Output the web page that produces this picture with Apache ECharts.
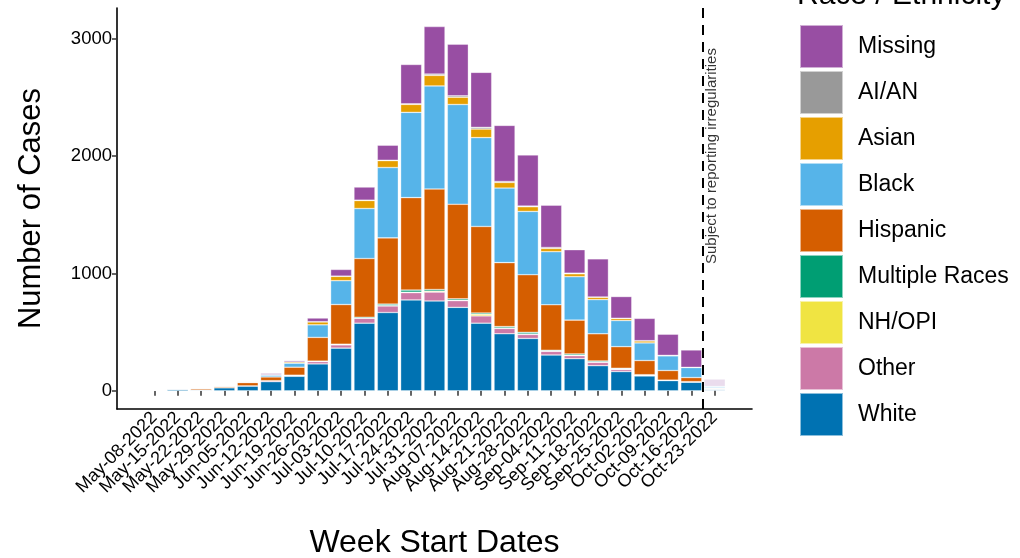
<!DOCTYPE html>
<html><head><meta charset="utf-8">
<script src="https://cdn.jsdelivr.net/npm/echarts@6/dist/echarts.min.js"></script>
<style>html,body{margin:0;padding:0;background:#fff}#c{width:1020px;height:558px}</style>
</head><body><div id="c"></div>
<script>
const weeks = ["May-08-2022","May-15-2022","May-22-2022","May-29-2022","Jun-05-2022","Jun-12-2022","Jun-19-2022","Jun-26-2022","Jul-03-2022","Jul-10-2022","Jul-17-2022","Jul-24-2022","Jul-31-2022","Aug-07-2022","Aug-14-2022","Aug-21-2022","Aug-28-2022","Sep-04-2022","Sep-11-2022","Sep-18-2022","Sep-25-2022","Oct-02-2022","Oct-09-2022","Oct-16-2022","Oct-23-2022"];
const white    = [4,14,7,27,42,78,124,229,364,576,667,774,765,711,576,486,446,305,274,214,164,127,87,74,12];
const other    = [0,0,0,0,0,8,6,20,28,42,56,62,76,57,62,45,34,31,25,28,17,3,2,2,2];
const nhopi    = [0,0,0,0,0,0,0,0,0,0,3,4,8,4,14,4,4,3,4,3,5,5,1,0,1];
const multiple = [0,0,0,0,0,0,3,4,5,9,12,18,14,12,11,12,14,7,11,9,6,2,1,2,1];
const hispanic = [0,2,12,11,28,32,68,202,338,500,565,788,856,805,737,545,491,387,288,232,184,121,82,35,6];
const black    = [3,2,0,0,4,15,34,107,203,426,599,726,878,850,757,635,539,452,370,291,223,150,125,85,16];
const asian    = [0,0,3,2,6,5,11,25,37,68,59,68,90,62,73,48,40,28,25,20,17,17,3,1,1];
const aian     = [0,0,0,0,0,0,0,2,2,3,3,5,11,12,14,8,6,8,5,2,2,2,1,1,0];
const missing  = [0,4,0,2,2,10,11,31,57,112,128,335,405,440,469,478,435,360,200,325,185,190,180,148,60];
const yTicks = [0,1000,2000,3000];
const cutoff = 23.5;           // between Oct-16 (23) and Oct-23 (24)
const noteY = 2000;
const noteText = "Subject to reporting irregularities";

const seriesDefs = [
  ["White", white, "#0072B2"],
  ["Other", other, "#CC79A7"],
  ["NH/OPI", nhopi, "#F0E442"],
  ["Multiple Races", multiple, "#009E73"],
  ["Hispanic", hispanic, "#D55E00"],
  ["Black", black, "#56B4E9"],
  ["Asian", asian, "#E69F00"],
  ["AI/AN", aian, "#999999"],
  ["Missing", missing, "#984EA3"]
];
const FONT = "Liberation Sans, Arial, sans-serif";
const lastIdx = weeks.length - 1;
const X_MIN = -1.6, X_MAX = weeks.length - 1 + 1.6;
const Y_MIN = -155, Y_MAX = 3261;
const G = { left: 117, right: 268, top: 8, bottom: 149 };
const plotW = 1020 - G.left - G.right;
const pxPerUnit = plotW / (X_MAX - X_MIN);
const innerLeft = G.left + (-0.5 - X_MIN) * pxPerUnit;
const innerRight = G.right + (X_MAX - (weeks.length - 0.5)) * pxPerUnit;

const series = seriesDefs.map(([name, vals, color]) => ({
  name, type: 'bar', stack: 'total', xAxisIndex: 1, yAxisIndex: 1,
  barCategoryGap: '10%',
  itemStyle: { color, borderColor: 'rgba(255,255,255,0.55)', borderWidth: 0.6 },
  data: vals.map((v, i) => i === lastIdx ? { value: v, itemStyle: { opacity: 0.2 } } : v)
}));
series.push({
  type: 'scatter', symbolSize: 0, silent: true, xAxisIndex: 0, yAxisIndex: 0,
  data: [[cutoff + 0.4, noteY]],
  label: { show: true, position: 'inside', rotate: 90, formatter: noteText,
           fontSize: 15, color: '#000', fontFamily: FONT, align: 'center', verticalAlign: 'middle' },
  markLine: {
    silent: true, symbol: 'none', animation: false,
    lineStyle: { color: '#000', type: [10, 7], width: 2 },
    label: { show: false },
    data: [{ xAxis: cutoff }]
  }
});

const gridCommon = { top: G.top, bottom: G.bottom, containLabel: false, outerBoundsMode: 'none' };
const chart = echarts.init(document.getElementById('c'));
chart.setOption({
  animation: false,
  backgroundColor: '#fff',
  title: { text: 'Race / Ethnicity', left: 792, top: -24,
           textStyle: { fontSize: 30, fontWeight: 'normal', color: '#000', fontFamily: FONT } },
  legend: {
    orient: 'vertical', left: 799, top: 24, padding: 0, itemWidth: 43, itemHeight: 43, itemGap: 1,
    selectedMode: false, icon: 'rect',
    data: seriesDefs.map(d => d[0]).reverse(),
    textStyle: { fontSize: 23, color: '#000', fontFamily: FONT, padding: [0, 0, 0, 10] }
  },
  grid: [
    Object.assign({ left: G.left, right: G.right }, gridCommon),
    Object.assign({ left: innerLeft, right: innerRight }, gridCommon)
  ],
  xAxis: [{
    type: 'value', gridIndex: 0, min: X_MIN, max: X_MAX,
    name: 'Week Start Dates', nameLocation: 'middle', nameGap: 118,
    nameTextStyle: { fontSize: 32, color: '#000', fontFamily: FONT },
    axisLine: { onZero: false, lineStyle: { color: '#000', width: 1.6 } },
    axisTick: { show: false }, axisLabel: { show: false }, splitLine: { show: false }
  }, {
    type: 'category', gridIndex: 1, data: weeks, boundaryGap: true,
    axisLine: { show: false },
    axisTick: { show: true, alignWithLabel: true, length: 5, lineStyle: { color: '#333', width: 1.5 } },
    axisLabel: { interval: 0, rotate: 45, fontSize: 18, color: '#000', fontFamily: FONT, margin: 6 },
    splitLine: { show: false }
  }],
  yAxis: [{
    type: 'value', gridIndex: 0, min: Y_MIN, max: Y_MAX,
    name: 'Number of Cases', nameLocation: 'middle', nameGap: 70,
    nameTextStyle: { fontSize: 31, color: '#000', fontFamily: FONT },
    axisLine: { show: true, onZero: false, lineStyle: { color: '#000', width: 1.6 } },
    axisTick: { show: true, customValues: yTicks, length: 5, lineStyle: { color: '#333', width: 1.5 } },
    axisLabel: { customValues: yTicks, formatter: v => String(v), fontSize: 18.5, color: '#000', fontFamily: FONT, margin: 5 },
    splitLine: { show: false }
  }, {
    type: 'value', gridIndex: 1, min: Y_MIN, max: Y_MAX, show: false
  }],
  series
});
</script></body></html>
